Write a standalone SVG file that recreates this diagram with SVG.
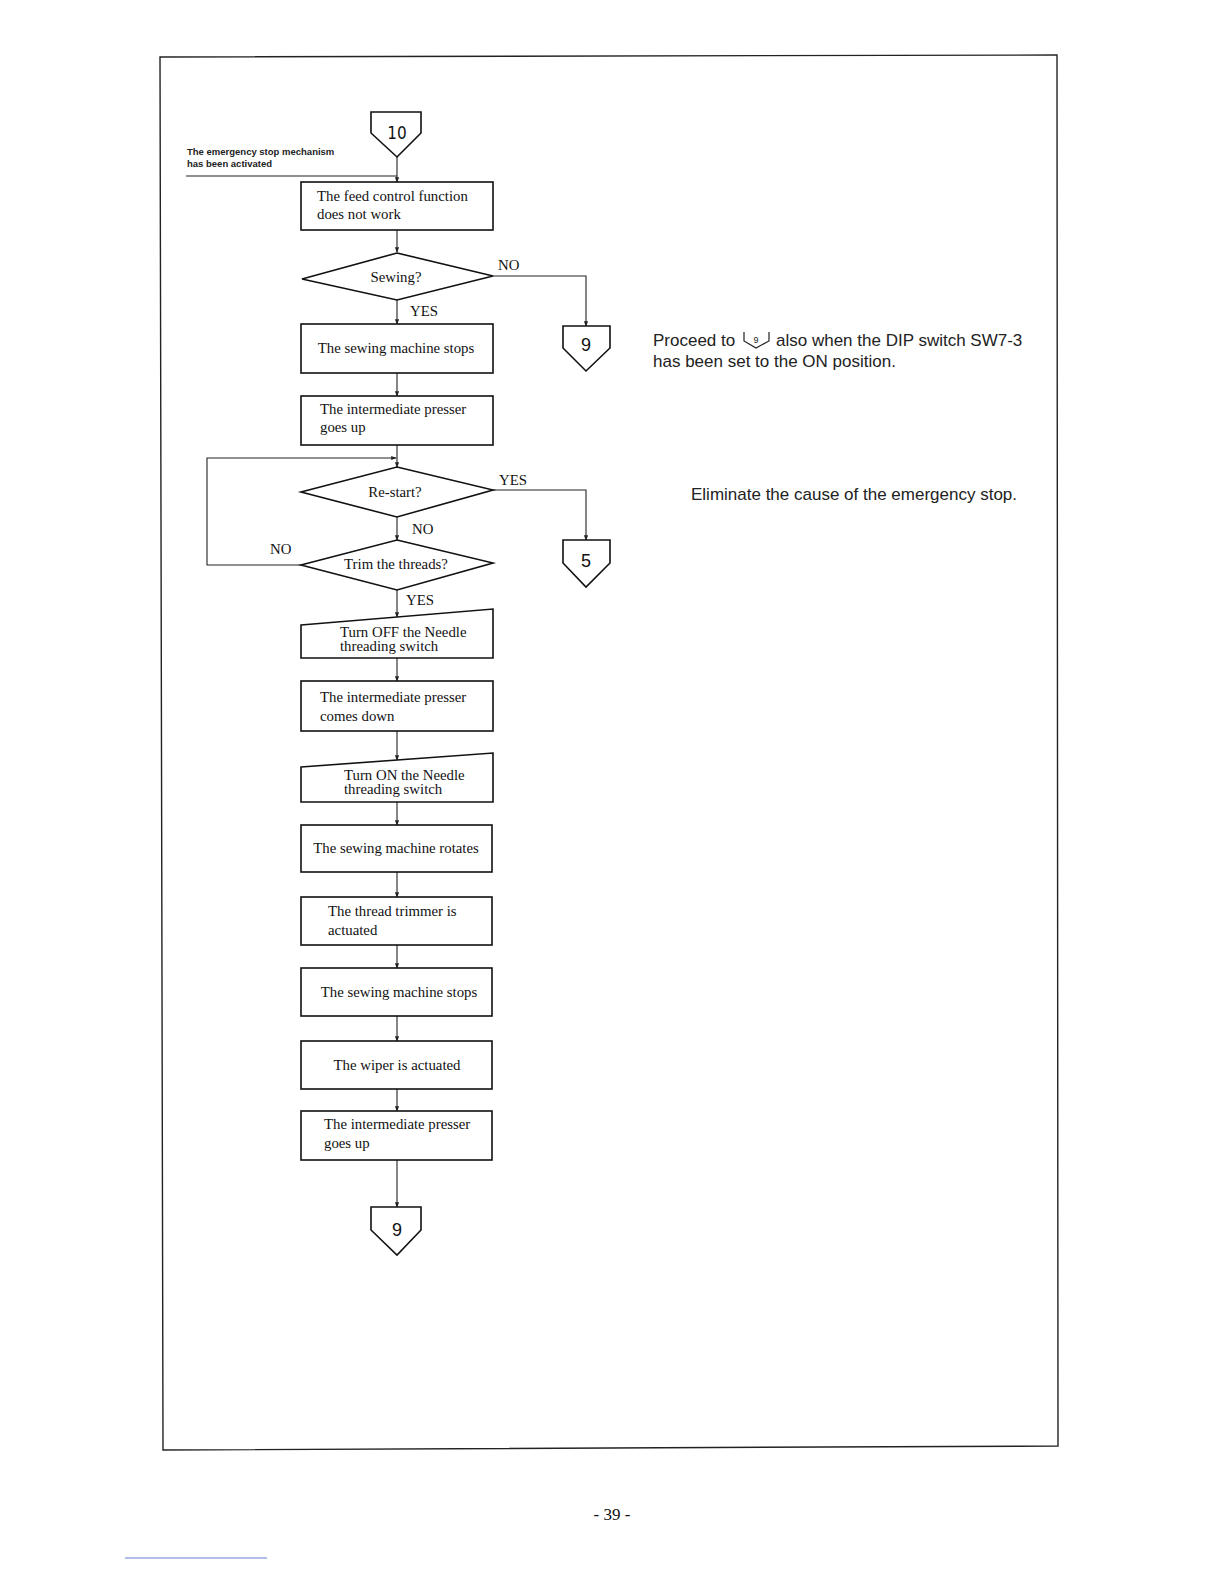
<svg xmlns="http://www.w3.org/2000/svg" width="1224" height="1584" viewBox="0 0 1224 1584">
<defs>
<style>
.bx{fill:#fff;stroke:#111;stroke-width:1.6}
.ln{fill:none;stroke:#222;stroke-width:1.1}
.t{font-family:"Liberation Serif","Times New Roman",serif;font-size:14.8px;fill:#111}
.c{font-family:"Liberation Sans",Arial,sans-serif;font-size:18px;fill:#111;text-anchor:middle}
.s{font-family:"Liberation Sans",Arial,sans-serif;font-size:17px;fill:#222}
.m{text-anchor:middle}
</style>
<marker id="ar" viewBox="0 0 8 8" refX="7" refY="4" markerWidth="5" markerHeight="5" orient="auto"><path d="M0,1 L8,4 L0,7 z" fill="#222"/></marker>
</defs>
<rect x="0" y="0" width="1224" height="1584" fill="#fff"/>
<path d="M160,57 L1057,55 L1058,1446 L163,1450 Z" fill="none" stroke="#222" stroke-width="1.4"/>

<g id="connectors">
<path class="ln" d="M397,157 V182" marker-end="url(#ar)"/>
<path class="ln" d="M186,176 H397"/>
<path class="ln" d="M397,230 V252" marker-end="url(#ar)"/>
<path class="ln" d="M493,276 H586 V326" marker-end="url(#ar)"/>
<path class="ln" d="M397,300 V324" marker-end="url(#ar)"/>
<path class="ln" d="M397,373 V396" marker-end="url(#ar)"/>
<path class="ln" d="M397,445 V467" marker-end="url(#ar)"/>
<path class="ln" d="M301,565 H207 V458 H396" marker-end="url(#ar)"/>
<path class="ln" d="M493,490 H586 V540" marker-end="url(#ar)"/>
<path class="ln" d="M397,517 V540" marker-end="url(#ar)"/>
<path class="ln" d="M397,590 V617" marker-end="url(#ar)"/>
<path class="ln" d="M397,658 V681" marker-end="url(#ar)"/>
<path class="ln" d="M397,731 V760" marker-end="url(#ar)"/>
<path class="ln" d="M397,802 V825" marker-end="url(#ar)"/>
<path class="ln" d="M397,872 V897" marker-end="url(#ar)"/>
<path class="ln" d="M397,945 V968" marker-end="url(#ar)"/>
<path class="ln" d="M397,1016 V1041" marker-end="url(#ar)"/>
<path class="ln" d="M397,1089 V1111" marker-end="url(#ar)"/>
<path class="ln" d="M397,1160 V1207" marker-end="url(#ar)"/>
<text class="t" x="498" y="270">NO</text>
<text class="t" x="410" y="316">YES</text>
<text class="t" x="499" y="485">YES</text>
<text class="t" x="412" y="534">NO</text>
<text class="t" x="270" y="554">NO</text>
<text class="t" x="406" y="605">YES</text>
</g>

<g id="start10">
<path class="bx" d="M371,112 H421 V133 L397,157 L371,133 Z"/>
<text x="397" y="139" class="c" style="font-family:'DejaVu Sans Condensed','Liberation Sans',sans-serif;font-size:17px">10</text>
</g>
<g id="note1">
<text x="187" y="155" style="font-family:'Liberation Sans',Arial,sans-serif;font-size:9.5px;font-weight:bold;fill:#222">The emergency stop mechanism</text>
<text x="187" y="167" style="font-family:'Liberation Sans',Arial,sans-serif;font-size:9.5px;font-weight:bold;fill:#222">has been activated</text>
</g>
<g id="box1"><rect class="bx" x="301" y="182" width="192" height="48"/>
<text class="t" x="317" y="201">The feed control function</text><text class="t" x="317" y="219">does not work</text></g>
<g id="d-sewing"><path class="bx" d="M397,253 L493,276 L397,300 L302,279 Z"/>
<text class="t m" x="396" y="282">Sewing?</text></g>
<g id="off9a"><path class="bx" d="M563,326 H610 V348 L586,371 L563,348 Z"/>
<text class="c" x="586" y="351">9</text></g>
<g id="note2">
<text class="s" x="653" y="346">Proceed to</text>
<text class="s" x="776" y="346">also when the DIP switch SW7-3</text>
<path d="M744,332 V341 L756,348 L769,341 V332" fill="none" stroke="#222" stroke-width="1.2"/>
<text x="756" y="343" style="font-family:'Liberation Sans',Arial,sans-serif;font-size:9px;fill:#222;text-anchor:middle">9</text>
<text class="s" x="653" y="367">has been set to the ON position.</text>
</g>
<g id="box2"><rect class="bx" x="301" y="324" width="192" height="49"/>
<text class="t m" x="396" y="353">The sewing machine stops</text></g>
<g id="box3"><rect class="bx" x="301" y="396" width="192" height="49"/>
<text class="t" x="320" y="414">The intermediate presser</text><text class="t" x="320" y="432">goes up</text></g>
<g id="d-restart"><path class="bx" d="M397,467 L493,490 L397,517 L301,492 Z"/>
<text class="t m" x="395" y="497">Re-start?</text></g>
<g id="d-trim"><path class="bx" d="M397,540 L493,563 L397,590 L301,565 Z"/>
<text class="t m" x="396" y="569">Trim the threads?</text></g>
<g id="off5"><path class="bx" d="M563,540 H610 V563 L586,587 L563,563 Z"/>
<text class="c" x="586" y="567">5</text></g>
<g id="note3"><text class="s" x="691" y="500">Eliminate the cause of the emergency stop.</text></g>
<g id="box4"><path class="bx" d="M301,625 L493,609 V658 H301 Z"/>
<text class="t" x="340" y="637">Turn OFF the Needle</text><text class="t" x="340" y="651">threading switch</text></g>
<g id="box5"><rect class="bx" x="301" y="681" width="192" height="50"/>
<text class="t" x="320" y="702">The intermediate presser</text><text class="t" x="320" y="721">comes down</text></g>
<g id="box6"><path class="bx" d="M301,767 L493,753 V802 H301 Z"/>
<text class="t" x="344" y="780">Turn ON the Needle</text><text class="t" x="344" y="794">threading switch</text></g>
<g id="box7"><rect class="bx" x="301" y="825" width="191" height="47"/>
<text class="t m" x="396" y="853">The sewing machine rotates</text></g>
<g id="box8"><rect class="bx" x="301" y="897" width="191" height="48"/>
<text class="t" x="328" y="916">The thread trimmer is</text><text class="t" x="328" y="935">actuated</text></g>
<g id="box9"><rect class="bx" x="301" y="968" width="191" height="48"/>
<text class="t m" x="399" y="997">The sewing machine stops</text></g>
<g id="box10"><rect class="bx" x="301" y="1041" width="191" height="48"/>
<text class="t m" x="397" y="1070">The wiper is actuated</text></g>
<g id="box11"><rect class="bx" x="301" y="1111" width="191" height="49"/>
<text class="t" x="324" y="1129">The intermediate presser</text><text class="t" x="324" y="1148">goes up</text></g>
<g id="off9b"><path class="bx" d="M371,1207 H421 V1230 L397,1255 L371,1230 Z"/>
<text class="c" x="397" y="1236">9</text></g>
<text x="612" y="1520" style="font-family:'Liberation Serif','Times New Roman',serif;font-size:17px;fill:#111;text-anchor:middle">- 39 -</text>
<line x1="125" y1="1558" x2="267" y2="1558" stroke="#6a7fd8" stroke-width="1"/>
</svg>
